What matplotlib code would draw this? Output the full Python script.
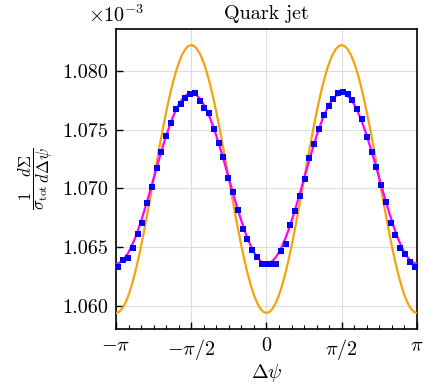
import numpy as np
import matplotlib
matplotlib.use("Agg")
import matplotlib.pyplot as plt
from matplotlib.ticker import FixedLocator, FormatStrFormatter, MultipleLocator

plt.rcParams['font.family'] = 'serif'
plt.rcParams['font.serif'] = ['cmr10', 'DejaVu Serif']
plt.rcParams['mathtext.fontset'] = 'cm'
plt.rcParams['axes.formatter.use_mathtext'] = True

# values shown in units of 1e-3
SCALE_LABEL = r'$\times10^{-3}$'
title = 'Quark jet'

# simulated points (63 bins over [-pi, pi])
n_bins = 63
points = [1.06332, 1.06389, 1.06404, 1.06494, 1.06611, 1.06710, 1.06877, 1.07014,
          1.07170, 1.07312, 1.07446, 1.07554, 1.07673, 1.07718, 1.07772, 1.07803,
          1.07809, 1.07746, 1.07687, 1.07639, 1.07503, 1.07383, 1.07264, 1.07085,
          1.06971, 1.06815, 1.06659, 1.06568, 1.06474, 1.06417, 1.06355, 1.06361,
          1.06361, 1.06361, 1.06468, 1.06531, 1.06687, 1.06809, 1.06937, 1.07077,
          1.07256, 1.07375, 1.07503, 1.07625, 1.07704, 1.07758, 1.07809, 1.07818,
          1.07801, 1.07753, 1.07673, 1.07590, 1.07440, 1.07307, 1.07179, 1.07026,
          1.06886, 1.06710, 1.06602, 1.06494, 1.06438, 1.06375, 1.06332]

# curves read at steps of pi/48 from -pi to -pi/2 (quarter period, repeats)
orange_q = [1.0594, 1.05950, 1.05979, 1.06027, 1.06093, 1.06176, 1.06274, 1.06386,
            1.0651, 1.06644, 1.06785, 1.06931, 1.0708, 1.07229, 1.07375, 1.07516,
            1.0765, 1.07774, 1.07886, 1.07984, 1.08067, 1.08133, 1.08181, 1.08210,
            1.0822]
magenta_q = [1.0636, 1.06366, 1.06385, 1.06415, 1.06457, 1.06510, 1.06572, 1.06644,
             1.06723, 1.06808, 1.06897, 1.06990, 1.07085, 1.07180, 1.07273, 1.07362,
             1.07448, 1.07526, 1.07598, 1.07660, 1.07713, 1.07755, 1.07785, 1.07804,
             1.0781]

def full_period(q):
    seg = q + q[-2::-1]                # one period (length pi)
    return seg + seg[1:]               # two periods (-pi..pi)

orange = full_period(orange_q)
magenta = full_period(magenta_q)

psi_curve = np.linspace(-np.pi, np.pi, len(orange))
edges = np.linspace(-np.pi, np.pi, n_bins + 1)
psi_pts = 0.5 * (edges[:-1] + edges[1:])

xticks = [-np.pi, -np.pi / 2, 0, np.pi / 2, np.pi]
xticklabels = [r'$-\pi$', r'$-\pi/2$', r'$0$', r'$\pi/2$', r'$\pi$']
yticks = [1.060, 1.065, 1.070, 1.075, 1.080]

fig = plt.figure(figsize=(4.25, 3.86), dpi=100)
ax = fig.add_axes([0.273, 0.1477, 0.708, 0.7773])

ax.plot(psi_curve, orange, color='#f5a20f', lw=1.6, zorder=3)
ax.plot(psi_curve, magenta, color='#ff00ff', lw=1.6, zorder=4)
ax.plot(psi_pts, points, 's', color='#0000ff', ms=3.8, mew=0, zorder=5)

ax.set_xlim(-np.pi, np.pi)
ax.set_ylim(1.05804, 1.08357)
ax.xaxis.set_major_locator(FixedLocator(xticks))
ax.set_xticklabels(xticklabels)
ax.xaxis.set_minor_locator(MultipleLocator(np.pi / 12))
ax.yaxis.set_major_locator(FixedLocator(yticks))
ax.yaxis.set_major_formatter(FormatStrFormatter('%.3f'))

ax.tick_params(axis='both', which='both', direction='in', labelsize=14.5,
               top=False, right=False)
ax.tick_params(axis='both', which='major', length=5, width=1.0, pad=6)
ax.tick_params(axis='x', which='minor', length=3, width=0.8)
ax.grid(True, which='major', color='#dcdcdc', lw=0.8)
for s in ax.spines.values():
    s.set_linewidth(1.2)

ax.set_title(title, fontsize=14.5, pad=7)
ax.set_xlabel(r'$\Delta\psi$', fontsize=14.5, labelpad=0)
ax.set_ylabel(r'$\dfrac{1}{\sigma_{\rm tot}}\dfrac{d\Sigma}{d\Delta\psi}$', fontsize=12, labelpad=5)
ax.text(-0.093, 1.0235, SCALE_LABEL, transform=ax.transAxes, fontsize=14.5,
        ha='left', va='baseline')

fig.savefig('out.png', dpi=100)
